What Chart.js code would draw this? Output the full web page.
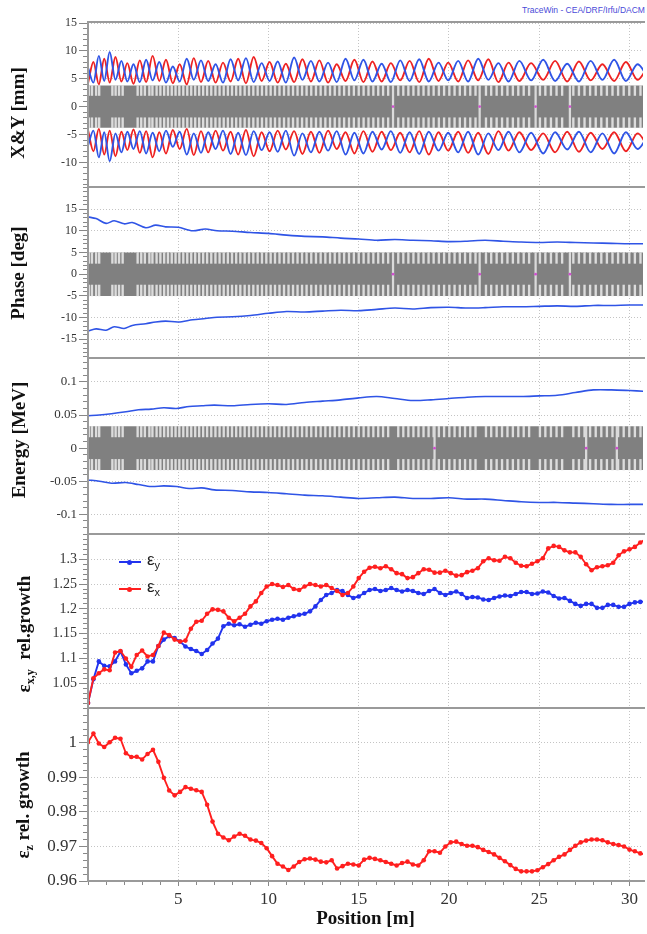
<!DOCTYPE html>
<html><head><meta charset="utf-8">
<script src="https://cdn.jsdelivr.net/npm/chart.js@4.4.1/dist/chart.umd.min.js"></script>
<style>
html,body{margin:0;padding:0;background:#fff}
body{width:647px;height:934px;overflow:hidden;position:relative}
canvas{position:absolute;left:0}
.yt{position:absolute;transform:translate(-50%,-50%) rotate(-90deg);white-space:nowrap;font:bold 19px 'Liberation Serif','Times New Roman',serif;color:#111;line-height:1}
.yt sub{font-size:12px;vertical-align:-4px}
#tw{position:absolute;left:522px;top:5px;font:8.5px 'Liberation Sans',Arial,sans-serif;color:#4a4ad8;white-space:nowrap}
.lgl{position:absolute;height:2px;width:22px;left:119px}
.lgm{position:absolute;width:5px;height:5px;left:127px;border-radius:50%}
.lgt{position:absolute;left:147px;font:17px 'Liberation Sans',Arial,sans-serif;color:#222;line-height:1}
.lgt sub{font-size:11px;vertical-align:-4px}
</style></head><body>
<div id="tw">TraceWin - CEA/DRF/Irfu/DACM</div>
<canvas id="c1" width="647" height="197" style="top:6px"></canvas>
<canvas id="c2" width="647" height="203" style="top:171px"></canvas>
<canvas id="c3" width="647" height="208" style="top:342px"></canvas>
<canvas id="c4" width="647" height="206" style="top:518px"></canvas>
<canvas id="c5" width="647" height="242" style="top:692px"></canvas>
<div class="yt" style="left:17px;top:113px">X&amp;Y [mm]</div>
<div class="yt" style="left:17px;top:273px">Phase [deg]</div>
<div class="yt" style="left:18px;top:440px">Energy [MeV]</div>
<div class="yt" style="left:25px;top:634px">ε<sub>x,y</sub>&nbsp; rel.growth</div>
<div class="yt" style="left:24px;top:805px">ε<sub>z</sub> rel. growth</div>
<div class="lgl" style="top:561px;background:#2233ee"></div><div class="lgm" style="top:559.5px;background:#2233ee"></div>
<div class="lgt" style="top:551px">ε<sub>y</sub></div>
<div class="lgl" style="top:588px;background:#ff1f1f"></div><div class="lgm" style="top:586.5px;background:#ff1f1f"></div>
<div class="lgt" style="top:578px">ε<sub>x</sub></div>
<script>
// ---------------- DATA ----------------
const xTicks = [5, 10, 15, 20, 25, 30];
const ticksXY = [-10, -5, 0, 5, 10, 15];
const ticksPhase = [-15, -10, -5, 0, 5, 10, 15];
const ticksEnergy = [-0.1, -0.05, 0, 0.05, 0.1];
const ticksEmitXY = [1.05, 1.1, 1.15, 1.2, 1.25, 1.3];
const ticksEmitZ = [0.96, 0.97, 0.98, 0.99, 1];

// beam envelope lobes (position [m], rms envelope [mm]); lower curve is the mirror image
const lobePos = [0.00,0.30,0.60,0.90,1.20,1.52,1.85,2.18,2.52,2.87,3.22,3.58,3.95,4.32,4.70,5.08,5.47,5.86,6.26,6.66,7.07,7.48,7.90,8.32,8.75,9.18,9.62,10.06,10.51,10.96,11.42,11.88,12.35,12.82,13.30,13.78,14.27,14.76,15.26,15.76,16.27,16.78,17.30,17.82,18.35,18.88,19.42,19.96,20.51,21.06,21.62,22.18,22.74,23.30,23.90,24.55,25.22,25.88,26.55,27.20,27.85,28.50,29.15,29.80,30.45,31.10];
const envY = [7.0,4.3,9.1,4.6,9.8,4.8,8.2,4.5,7.6,4.4,8.4,4.7,8.0,4.3,7.2,4.5,8.6,4.8,8.3,4.6,7.6,4.3,8.5,4.7,8.7,4.4,7.8,4.6,8.1,4.3,8.8,4.8,8.2,4.5,7.9,4.4,8.6,4.7,8.4,4.5,7.7,4.4,8.3,4.6,8.5,4.5,7.9,4.7,8.2,4.5,8.6,4.8,7.8,4.5,8.2,4.7,8.4,4.6,7.7,4.5,8.2,4.8,8.4,4.6,7.6,4.7];
const envX = [4.2,8.0,4.0,8.6,4.3,8.9,4.5,7.8,4.1,8.3,4.4,9.1,4.6,8.4,4.2,7.6,4.0,8.7,4.4,8.2,4.3,7.9,4.5,8.6,4.2,8.9,4.6,8.0,4.3,7.7,4.4,8.5,4.5,8.3,4.3,7.6,4.6,8.4,4.4,8.1,4.5,7.8,4.7,8.2,4.4,8.6,4.6,7.9,4.5,8.3,4.7,8.5,4.4,7.9,4.6,7.8,4.8,8.2,4.5,8.1,4.7,7.6,4.6,8.0,4.8,7.7];

// phase envelope [deg]
const phasePos = [0,0.45,1.0,1.45,2.0,2.45,3.2,3.75,4.3,5.0,5.8,6.5,7.15,8,9,10,11,12,13,14,15,16,17,18,19,20,21,22,23,24,25,26,27,28,29,30,30.8];
const phaseUp = [13.2,12.8,11.7,12.3,11.6,11.9,10.7,11.3,10.9,10.8,10.0,10.4,10.0,9.9,9.6,9.4,9.0,8.7,8.6,8.3,8.1,7.8,8.0,7.8,7.7,7.5,7.6,7.8,7.6,7.4,7.3,7.4,7.3,7.2,7.1,7.0,7.0];
const phaseLo = [-13.1,-12.6,-12.9,-12.1,-12.5,-11.8,-11.4,-11.0,-10.8,-11.0,-10.5,-10.2,-9.9,-9.8,-9.5,-9.0,-8.6,-8.7,-8.5,-8.3,-8.4,-8.1,-7.8,-8.0,-7.7,-7.6,-7.8,-7.7,-7.5,-7.5,-7.4,-7.3,-7.4,-7.2,-7.2,-7.1,-7.1];

// energy envelope [MeV]
const energyPos = [0,0.63,1.3,2.1,2.8,3.5,4.2,4.9,5.6,6.3,7.0,8.0,9.0,10.0,11.0,12.0,13.0,14.0,15.0,16.0,17.0,18.0,19.0,20.0,21.0,22.0,23.0,24.0,25.0,26.0,27.0,28.0,29.0,30.0,30.8];
const energyUp = [0.049,0.050,0.052,0.055,0.058,0.059,0.061,0.060,0.063,0.064,0.065,0.064,0.066,0.067,0.066,0.069,0.071,0.073,0.076,0.078,0.075,0.072,0.073,0.075,0.077,0.078,0.078,0.078,0.079,0.080,0.084,0.088,0.088,0.087,0.086];
const energyLo = [-0.048,-0.050,-0.053,-0.052,-0.055,-0.058,-0.057,-0.058,-0.061,-0.060,-0.063,-0.064,-0.066,-0.067,-0.069,-0.071,-0.072,-0.074,-0.076,-0.075,-0.074,-0.076,-0.076,-0.075,-0.077,-0.077,-0.079,-0.081,-0.082,-0.082,-0.083,-0.084,-0.085,-0.085,-0.085];

// emittance growth
const emitPos = [0,0.3,0.6,0.9,1.2,1.5,1.8,2.1,2.4,2.7,3.0,3.3,3.6,3.9,4.2,4.5,4.8,5.1,5.4,5.7,6.0,6.3,6.6,6.9,7.2,7.5,7.8,8.1,8.4,8.7,9.0,9.3,9.6,9.9,10.2,10.5,10.8,11.1,11.4,11.7,12.0,12.3,12.6,12.9,13.2,13.5,13.8,14.1,14.4,14.7,15.0,15.3,15.6,15.9,16.2,16.5,16.8,17.1,17.4,17.7,18.0,18.3,18.6,18.9,19.2,19.5,19.8,20.1,20.4,20.7,21.0,21.3,21.6,21.9,22.2,22.5,22.8,23.1,23.4,23.7,24.0,24.3,24.6,24.9,25.2,25.5,25.8,26.1,26.4,26.7,27.0,27.3,27.6,27.9,28.2,28.5,28.8,29.1,29.4,29.7,30.0,30.3,30.6,30.9];
const epsX = [1.010,1.060,1.070,1.078,1.076,1.112,1.115,1.100,1.083,1.107,1.116,1.104,1.107,1.125,1.152,1.147,1.138,1.134,1.136,1.160,1.174,1.176,1.190,1.199,1.198,1.195,1.182,1.175,1.182,1.190,1.205,1.215,1.232,1.245,1.250,1.248,1.244,1.248,1.240,1.238,1.245,1.250,1.248,1.245,1.248,1.242,1.236,1.228,1.232,1.245,1.262,1.275,1.283,1.285,1.282,1.286,1.280,1.272,1.270,1.262,1.264,1.272,1.280,1.279,1.273,1.273,1.277,1.272,1.267,1.268,1.274,1.277,1.282,1.296,1.302,1.298,1.297,1.305,1.302,1.293,1.287,1.286,1.291,1.296,1.302,1.322,1.327,1.325,1.318,1.314,1.314,1.305,1.290,1.278,1.284,1.286,1.288,1.293,1.308,1.316,1.320,1.325,1.334,1.340];
const epsY = [1.010,1.058,1.094,1.085,1.084,1.094,1.114,1.088,1.070,1.075,1.080,1.094,1.094,1.125,1.138,1.145,1.141,1.134,1.124,1.119,1.115,1.109,1.117,1.130,1.140,1.165,1.170,1.167,1.169,1.164,1.168,1.172,1.170,1.175,1.178,1.180,1.178,1.182,1.185,1.188,1.190,1.195,1.205,1.218,1.228,1.232,1.238,1.236,1.228,1.222,1.225,1.232,1.238,1.240,1.236,1.238,1.242,1.238,1.235,1.238,1.236,1.232,1.230,1.236,1.240,1.232,1.228,1.232,1.235,1.230,1.222,1.224,1.223,1.219,1.218,1.222,1.225,1.227,1.226,1.230,1.234,1.234,1.230,1.231,1.235,1.233,1.226,1.221,1.222,1.216,1.210,1.206,1.210,1.210,1.202,1.202,1.208,1.208,1.204,1.204,1.210,1.213,1.214,1.215];
const epsZ = [1.0002,1.0027,0.9998,0.9988,1.0002,1.0015,1.0012,0.9970,0.9959,0.9960,0.9952,0.9968,0.9980,0.9945,0.9899,0.9862,0.9848,0.9858,0.9872,0.9867,0.9863,0.9858,0.9821,0.9772,0.9737,0.9726,0.9718,0.9729,0.9737,0.9731,0.9720,0.9717,0.9710,0.9695,0.9672,0.9650,0.9642,0.9632,0.9642,0.9655,0.9663,0.9665,0.9662,0.9656,0.9654,0.9660,0.9636,0.9643,0.9650,0.9648,0.9645,0.9662,0.9667,0.9664,0.9660,0.9655,0.9650,0.9645,0.9652,0.9656,0.9648,0.9645,0.9660,0.9686,0.9686,0.9682,0.9700,0.9712,0.9714,0.9707,0.9702,0.9702,0.9698,0.9690,0.9684,0.9677,0.9667,0.9657,0.9646,0.9635,0.9628,0.9628,0.9628,0.9631,0.9640,0.9649,0.9660,0.9670,0.9677,0.9690,0.9702,0.9712,0.9717,0.9720,0.9720,0.9718,0.9712,0.9707,0.9704,0.9700,0.9691,0.9686,0.9680,0.9676];

// element layout (gaps between drift-tube elements, element boundaries)
const gapPos = [0.05,0.22,0.45,0.62,1.35,1.53,1.72,1.92,2.75,2.95,3.15,3.40,3.57,3.80,4.01,4.22,4.43,4.64,4.85,5.06,5.28,5.50,5.72,5.94,6.16,6.38,6.60,6.83,7.06,7.29,7.52,7.75,7.98,8.21,8.44,8.68,8.92,9.16,9.40,9.64,9.88,10.12,10.36,10.61,10.86,11.11,11.36,11.61,11.86,12.11,12.37,12.63,12.89,13.15,13.41,13.67,13.93,14.19,14.46,14.73,15.00,15.27,15.54,15.81,16.08,16.35,16.63,17.19,17.47,17.75,18.03,18.31,18.59,18.87,19.15,19.44,19.73,20.02,20.31,20.60,20.89,21.18,21.47,22.05,22.34,22.64,22.94,23.24,23.54,23.84,24.14,24.44,25.04,25.34,25.65,25.96,26.27,26.89,27.20,27.51,27.82,28.13,28.44,28.75,29.06,29.37,29.68,29.99,30.30,30.61];
const boundPosXY = [16.9, 21.7, 24.8, 26.7];
const boundPosEnergy = [19.2, 27.6, 29.3];
const elemXY = [2.0, 3.8];        // inner / outer half height of element band
const elemPhase = [2.5, 5.0];
const elemEnergy = [0.017, 0.033];

// ---------------- STYLE / HELPERS ----------------
const X_MAX = 30.75;
const SERIF = "'Liberation Serif','Times New Roman',serif";
const RED = '#ee2222', BLUE = '#2f54e6';
const RED2 = '#ff1f1f', BLUE2 = '#2233ee';

const framePlugin = {
  id: 'frame',
  afterDatasetsDraw(chart) {
    const {ctx, chartArea: a} = chart;
    ctx.save();
    ctx.strokeStyle = '#9a9a9a';
    ctx.lineWidth = 2;
    ctx.beginPath();
    ctx.moveTo(a.right + 2, a.top);
    ctx.lineTo(a.left, a.top);
    ctx.lineTo(a.left, a.bottom);
    ctx.lineTo(a.right + 2, a.bottom);
    ctx.stroke();
    ctx.restore();
  }
};

function minorValues(min, max, step) {
  const out = [];
  const n0 = Math.ceil(min / step - 1e-9), n1 = Math.floor(max / step + 1e-9);
  for (let n = n0; n <= n1; n++) out.push({value: +(n * step).toFixed(6)});
  return out;
}

function pts(xs, ys) { return xs.map((x, i) => ({x, y: ys[i]})); }

function makeChart(id, o) {
  const scales = {
    x: {
      type: 'linear', min: 0, max: X_MAX, position: 'bottom', weight: 1, offset: false,
      afterBuildTicks: s => { s.ticks = xTicks.map(v => ({value: v})); },
      ticks: o.bottom ? {display: true, font: {family: SERIF, size: 17}, color: '#333', padding: 3,
                         maxRotation: 0, autoSkip: false, callback: v => String(v)} : {display: false},
      grid: {offset: false, color: '#c4c4c4', lineWidth: 1, drawTicks: !!o.bottom, tickLength: 5, tickColor: '#888', tickWidth: 1},
      border: {display: false, dash: [1, 2]},
      title: o.bottom ? {display: true, text: 'Position [m]', font: {family: SERIF, size: 19, weight: 'bold'},
                         color: '#111', padding: {top: 0, bottom: 4}} : {display: false},
      afterFit: s => { s.height = o.bottom ? 53 : 0; }
    },
    y: {
      type: 'linear', min: o.yMin, max: o.yMax, position: 'left', weight: 1,
      afterBuildTicks: s => { s.ticks = o.yTicks.map(v => ({value: v})); },
      ticks: {font: {family: SERIF, size: o.yFont}, color: '#333', padding: 2, autoSkip: false, callback: v => String(v)},
      grid: {color: '#c4c4c4', lineWidth: 1, tickLength: 9, tickColor: '#888', tickWidth: 1},
      border: {display: false, dash: [1, 2]},
      afterFit: s => { s.width = 88; }
    },
    ym: {
      type: 'linear', min: o.yMin, max: o.yMax, position: 'left', weight: 0,
      afterBuildTicks: s => { s.ticks = minorValues(o.yMin, o.yMax, o.yMinorStep); },
      ticks: {display: false},
      grid: {drawOnChartArea: false, tickLength: 5, tickColor: '#888', tickWidth: 1},
      border: {display: false},
      afterFit: s => { s.width = 0; }
    }
  };
  if (o.bottom) {
    scales.xm = {
      type: 'linear', min: 0, max: X_MAX, position: 'bottom', weight: 0, offset: false,
      afterBuildTicks: s => { s.ticks = minorValues(0, X_MAX, 1); },
      ticks: {display: false},
      grid: {offset: false, drawOnChartArea: false, tickLength: 4, tickColor: '#888', tickWidth: 1},
      border: {display: false},
      afterFit: s => { s.height = 0; }
    };
  }
  return new Chart(document.getElementById(id), {
    type: 'line',
    data: {datasets: o.datasets},
    options: {
      responsive: false, animation: false, devicePixelRatio: 1, events: [],
      layout: {padding: {top: 16, bottom: o.bottom ? 0 : 16, left: 0, right: 0}},
      plugins: {legend: {display: false}, tooltip: {enabled: false}},
      scales
    },
    plugins: [framePlugin]
  });
}

function elementDatasets(elem, bounds) {
  const [inner, outer] = elem;
  return [
    {type: 'line', data: [{x: 0, y: outer}, {x: X_MAX, y: outer}], borderWidth: 0, pointRadius: 0,
     backgroundColor: '#808080', fill: {value: -outer}, order: 6},
    {type: 'bar', data: gapPos.map(p => ({x: p, y: [inner, outer]})), backgroundColor: '#dcdcdc',
     barThickness: 1.7, grouped: false, borderWidth: 0, order: 5},
    {type: 'bar', data: gapPos.map(p => ({x: p, y: [-outer, -inner]})), backgroundColor: '#dcdcdc',
     barThickness: 1.7, grouped: false, borderWidth: 0, order: 5},
    {type: 'bar', data: bounds.map(p => ({x: p, y: [-outer, outer]})), backgroundColor: '#dadada',
     barThickness: 1.6, grouped: false, borderWidth: 0, order: 4},
    {type: 'line', data: bounds.map(p => ({x: p, y: 0})), showLine: false, pointRadius: 1.4,
     pointBackgroundColor: '#d050d0', pointBorderWidth: 0, order: 3}
  ];
}

function curve(data, color, width, extra) {
  return Object.assign({type: 'line', data, borderColor: color, borderWidth: width, pointRadius: 0,
                        fill: false, tension: 0.3, order: 1}, extra || {});
}

// ---------------- PANELS ----------------
const negY = envY.map(v => -v), negX = envX.map(v => -v);
makeChart('c1', {
  yMin: -14.42, yMax: 15.18, yTicks: ticksXY, yMinorStep: 1, yFont: 12,
  datasets: [
    ...elementDatasets(elemXY, boundPosXY),
    curve(pts(lobePos, envY), BLUE, 1.9, {cubicInterpolationMode: 'monotone'}),
    curve(pts(lobePos, envX), RED, 1.9, {cubicInterpolationMode: 'monotone'}),
    curve(pts(lobePos, negY), BLUE, 1.9, {cubicInterpolationMode: 'monotone'}),
    curve(pts(lobePos, negX), RED, 1.9, {cubicInterpolationMode: 'monotone'})
  ]
});

makeChart('c2', {
  yMin: -19.3, yMax: 20.08, yTicks: ticksPhase, yMinorStep: 1, yFont: 12,
  datasets: [
    ...elementDatasets(elemPhase, boundPosXY),
    curve(pts(phasePos, phaseUp), BLUE, 1.6),
    curve(pts(phasePos, phaseLo), BLUE, 1.6)
  ]
});

makeChart('c3', {
  yMin: -0.1297, yMax: 0.1362, yTicks: ticksEnergy, yMinorStep: 0.01, yFont: 13,
  datasets: [
    ...elementDatasets(elemEnergy, boundPosEnergy),
    curve(pts(energyPos, energyUp), BLUE, 1.6),
    curve(pts(energyPos, energyLo), BLUE, 1.6)
  ]
});

makeChart('c4', {
  yMin: 1.0, yMax: 1.351, yTicks: ticksEmitXY, yMinorStep: 0.01, yFont: 14,
  datasets: [
    {type: 'line', label: 'εy', data: pts(emitPos, epsY), borderColor: BLUE2, backgroundColor: BLUE2,
     borderWidth: 1.9, pointRadius: 2.3, pointBorderWidth: 0, tension: 0, order: 2},
    {type: 'line', label: 'εx', data: pts(emitPos, epsX), borderColor: RED2, backgroundColor: RED2,
     borderWidth: 1.9, pointRadius: 2.3, pointBorderWidth: 0, tension: 0, order: 1}
  ]
});

makeChart('c5', {
  yMin: 0.96, yMax: 1.0101, yTicks: ticksEmitZ, yMinorStep: 0.002, yFont: 17, bottom: true,
  datasets: [
    {type: 'line', label: 'εz', data: pts(emitPos, epsZ), borderColor: RED2, backgroundColor: RED2,
     borderWidth: 1.9, pointRadius: 2.3, pointBorderWidth: 0, tension: 0, order: 1}
  ]
});
</script>
</body></html>
